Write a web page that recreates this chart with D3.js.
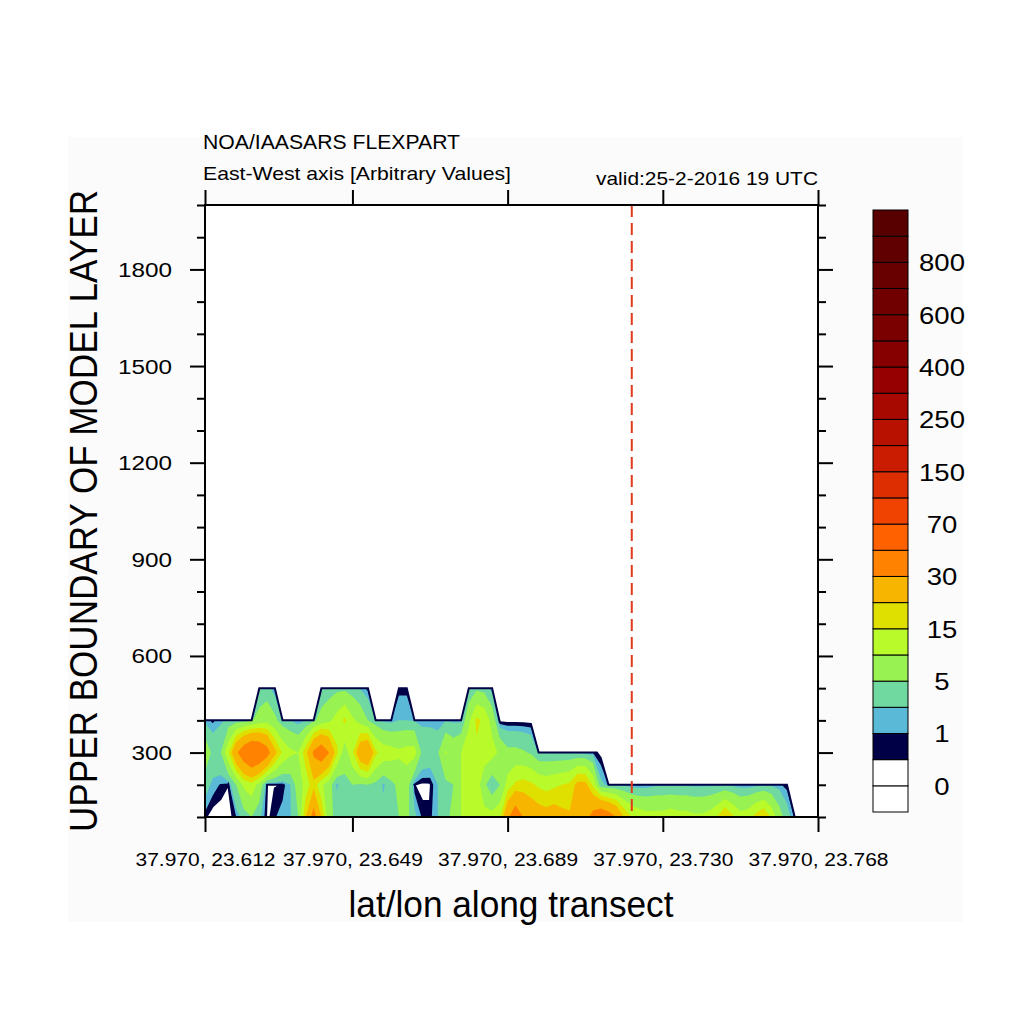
<!DOCTYPE html>
<html>
<head>
<meta charset="UTF-8">
<title>FLEXPART transect</title>
<script src="https://cdn.jsdelivr.net/npm/d3@7"></script>
<style>
  body { margin: 0; background: #fff; }
  svg text { font-family: "Liberation Sans", Arial, sans-serif; fill: #000; }
</style>
</head>
<body>
<script>
var _ = null; // missing value (no layer data)

// model layer tops (rows of the grid) and transect points (columns 0..79)
var layerTops = [100, 200, 300, 400, 500];
var tickIdx = [0, 19, 39, 59, 79];
var tickLabels = ["37.970, 23.612", "37.970, 23.649", "37.970, 23.689", "37.970, 23.730", "37.970, 23.768"];
var markIdx = 55;

var yMajor = [300, 600, 900, 1200, 1500, 1800];
var yMinor = [100, 200, 400, 500, 700, 800, 1000, 1100, 1300, 1400, 1600, 1700, 1900, 2000];

var levels = [0, 0.5, 1, 2, 5, 10, 15, 20, 30, 50, 70, 100, 150, 200, 250, 300, 400, 500, 600, 700, 800, 900];
var colors = ["#ffffff", "#ffffff", "#000046", "#5ab9d6", "#6fd9a0", "#98f252", "#b9fa2a", "#dfe000",
  "#f7b500", "#ff8300", "#ff6100", "#f04200", "#dc2e00", "#c91c00", "#b81100", "#a70800",
  "#960000", "#860000", "#7a0000", "#700000", "#680000", "#600000", "#580000"];

// concentration per layer, one value per transect point
var conc100 = [0.6, 0, 0, 0, 0.9, 3, 5, 2.5, 0.2, 0.9,
  1.5, 1.8, 5, 20, 35, 20, 6, 4, 3, 3,
  3.5, 4, 4, 3, 4, 5, 6, 2.5, 0.8, 0.7,
  2, 4, 6, 10, 12, 13, 12, 12, 14, 28,
  38, 30, 26, 24, 23, 24, 22, 21, 22, 26,
  34, 40, 36, 30, 20, 15, 13, 12, 12, 12,
  13, 12, 12, 11, 11, 12, 15, 21, 16, 12,
  13, 17, 20, 14, 7, 3, 0.8, _, _, _];
var conc200 = [3, 1.5, 0.9, 0.5, 5, 11, 13, 8, 0.45, 0.45,
  0.52, 2, 7, 12, 18, 11, 7, 1.5, 4, 5,
  4.5, 5, 4, 1.6, 4, 6, 7, 0.5, 0.2, 0.3,
  2, 4, 5, 10, 12, 13, 6, 1.8, 5, 12,
  16, 17, 16, 14, 13, 14, 15, 16, 22, 22,
  14, 2.5, 1.5, 1.6, 1.4, 0.9, 0.8, 1.0, 1.5, 1.6,
  1.6, 1.6, 1.6, 1.5, 1.5, 1.5, 1.6, 1.7, 1.5, 1.0,
  0.9, 1.3, 1.6, 1.5, 1.2, 0.6, _, _, _, _];
var conc300 = [8, 4, 4.5, 14, 28, 38, 45, 42, 35, 22,
  14, 11, 10, 18, 32, 38, 30, 16, 7, 14,
  26, 30, 16, 13, 12, 11, 12, 12, 4, 3.5,
  4.5, 10.5, 8, 10, 13, 14, 13, 12, 9, 6,
  6, 5.5, 4.5, 1.8, 1.9, 1.8, 1.7, 1.8, 1.6, 1.3,
  0.9, 0.1, _, _, _, _, _, _, _, _,
  _, _, _, _, _, _, _, _, _, _,
  _, _, _, _, _, _, _, _, _, _];
var conc400 = [1.5, 0.7, 1.6, 2.5, 3, 3.5, 4.5, 7, 8, 6,
  3, 2, 0.8, 2, 4, 7, 9, 12, 16, 11,
  8, 5, 3, 1.5, 1.2, 2, 2, 1.8, 1.5, 1.6,
  0.9, 1.8, 1.5, 1.4, 9, 16, 14, 8, 0, 0,
  0, 0, 0, _, _, _, _, _, _, _,
  _, _, _, _, _, _, _, _, _, _,
  _, _, _, _, _, _, _, _, _, _,
  _, _, _, _, _, _, _, _, _, _];
var conc500 = [_, _, _, _, _, _, _, 2, 3, 0.8,
  _, _, _, _, _, 2, 3, 4, 4, 3,
  1.8, 0.6, _, _, _, 0.7, 0.7, _, _, _,
  _, _, _, _, 2, 4, 3.5, 1, _, _,
  _, _, _, _, _, _, _, _, _, _,
  _, _, _, _, _, _, _, _, _, _,
  _, _, _, _, _, _, _, _, _, _,
  _, _, _, _, _, _, _, _, _, _];

var width = 613, height = 612;

var svg = d3.select("body").append("svg")
  .attr("width", 1024)
  .attr("height", 1024);

svg.append("rect").attr("width", 1024).attr("height", 1024).attr("fill", "#fff");
svg.append("rect")
  .attr("x", 68).attr("y", 137).attr("width", 895).attr("height", 785)
  .attr("fill", "#fbfbfb");

svg.append("defs").append("clipPath")
  .attr("id", "clip")
  .append("rect")
    .attr("width", width)
    .attr("height", height);

var x = d3.scaleLinear().domain([0, conc100.length - 1]).range([0, width]);
var y = d3.scaleLinear().domain([100, 2000]).range([height, 0]);
var row = d3.scaleLinear()
  .domain([0, layerTops.length - 1])
  .range([y(layerTops[0]), y(layerTops[layerTops.length - 1])]);

var plot = svg.append("g").attr("transform", "translate(205,205)");
plot.append("rect").attr("width", width).attr("height", height).attr("fill", "#fff");

// grid for d3.contours, bottom layer first; missing cells get a very low value
var layers = [conc100, conc200, conc300, conc400, conc500];
var nx = conc100.length, ny = layers.length + 1;
var grid = [];
layers.forEach(function(l) {
  l.forEach(function(v) { grid.push(v == null ? -1e9 : v); });
});
for (var i = 0; i < nx; i++) grid.push(-1e9);

var bands = d3.contours().size([nx, ny]).thresholds(levels.slice(1))(grid);

var proj = d3.geoTransform({
  point: function(px, py) { this.stream.point(x(px - 0.5), row(py - 0.5)); }
});
var path = d3.geoPath(proj);

var field = plot.append("g").attr("clip-path", "url(#clip)");
field.selectAll("path.band")
  .data(bands)
  .enter()
  .append("path")
  .attr("class", "band")
  .attr("d", path)
  .attr("fill", function(d, i) { return colors[i + 2]; });

// thin navy rim round the outer contour
field.append("path")
  .datum(bands[0])
  .attr("d", path)
  .attr("fill", "none")
  .attr("stroke", colors[2])
  .attr("stroke-width", 2);

plot.append("line")
  .attr("x1", x(markIdx)).attr("x2", x(markIdx))
  .attr("y1", 0).attr("y2", height)
  .attr("stroke", "#e2381c")
  .attr("stroke-width", 2)
  .attr("stroke-dasharray", "12,6");

// axes
plot.append("g").attr("class", "axis xb")
  .attr("transform", "translate(0," + height + ")")
  .call(d3.axisBottom(x).tickValues(tickIdx).tickFormat(function(d, i) { return tickLabels[i]; }).tickSize(15).tickSizeOuter(0));
plot.append("g").attr("class", "axis")
  .call(d3.axisTop(x).tickValues(tickIdx).tickFormat("").tickSize(15).tickSizeOuter(0));
plot.append("g").attr("class", "axis yl")
  .call(d3.axisLeft(y).tickValues(yMajor).tickFormat(d3.format("d")).tickSize(15).tickSizeOuter(0));
plot.append("g").attr("class", "axis")
  .call(d3.axisLeft(y).tickValues(yMinor).tickFormat("").tickSize(8).tickSizeOuter(0));
plot.append("g").attr("class", "axis")
  .attr("transform", "translate(" + width + ",0)")
  .call(d3.axisRight(y).tickValues(yMajor).tickFormat("").tickSize(15).tickSizeOuter(0));
plot.append("g").attr("class", "axis")
  .attr("transform", "translate(" + width + ",0)")
  .call(d3.axisRight(y).tickValues(yMinor).tickFormat("").tickSize(8).tickSizeOuter(0));

plot.selectAll(".axis .domain").remove();
plot.selectAll(".axis line").attr("stroke", "#000").attr("stroke-width", 2);
plot.selectAll(".axis").attr("font-family", null).attr("font-size", null);

plot.selectAll(".xb text")
  .attr("y", 49).attr("dy", null)
  .attr("font-size", 18)
  .attr("textLength", 140)
  .attr("lengthAdjust", "spacingAndGlyphs");

plot.selectAll(".yl text")
  .attr("x", -33).attr("y", 7).attr("dy", null)
  .attr("font-size", 20)
  .attr("textLength", function() { return this.textContent.length * 13.5; })
  .attr("lengthAdjust", "spacingAndGlyphs");

plot.append("rect")
  .attr("width", width).attr("height", height)
  .attr("fill", "none").attr("stroke", "#000").attr("stroke-width", 2);

// titles
svg.append("text").attr("x", 203).attr("y", 149).attr("font-size", 20)
  .attr("textLength", 257).attr("lengthAdjust", "spacingAndGlyphs")
  .text("NOA/IAASARS FLEXPART");
svg.append("text").attr("x", 203).attr("y", 180).attr("font-size", 19)
  .attr("textLength", 308).attr("lengthAdjust", "spacingAndGlyphs")
  .text("East-West axis [Arbitrary Values]");
svg.append("text").attr("x", 818).attr("y", 185).attr("font-size", 19)
  .attr("text-anchor", "end")
  .attr("textLength", 222).attr("lengthAdjust", "spacingAndGlyphs")
  .text("valid:25-2-2016 19 UTC");

svg.append("text")
  .attr("transform", "translate(97,511) rotate(-90)")
  .attr("text-anchor", "middle")
  .attr("font-size", 38)
  .attr("textLength", 642).attr("lengthAdjust", "spacingAndGlyphs")
  .text("UPPER BOUNDARY OF MODEL LAYER");

svg.append("text")
  .attr("x", 511).attr("y", 917)
  .attr("text-anchor", "middle")
  .attr("font-size", 36)
  .attr("textLength", 325).attr("lengthAdjust", "spacingAndGlyphs")
  .text("lat/lon along transect");

// label bar
var barH = 602, boxH = barH / colors.length;
var bar = svg.append("g").attr("transform", "translate(873,210)");
bar.selectAll("rect")
  .data(colors)
  .enter()
  .append("rect")
  .attr("x", 0)
  .attr("y", function(d, i) { return barH - (i + 1) * boxH; })
  .attr("width", 35)
  .attr("height", boxH)
  .attr("fill", function(d) { return d; })
  .attr("stroke", "#000")
  .attr("stroke-width", 1);

bar.selectAll("text")
  .data(levels.filter(function(d, i) { return i % 2 === 0; }))
  .enter()
  .append("text")
  .attr("x", 69)
  .attr("y", function(d, i) { return barH - (2 * i + 1) * boxH + 9; })
  .attr("text-anchor", "middle")
  .attr("font-size", 24)
  .attr("textLength", function(d) { return String(d).length * 15.3; })
  .attr("lengthAdjust", "spacingAndGlyphs")
  .text(function(d) { return d; });
</script>
</body>
</html>
